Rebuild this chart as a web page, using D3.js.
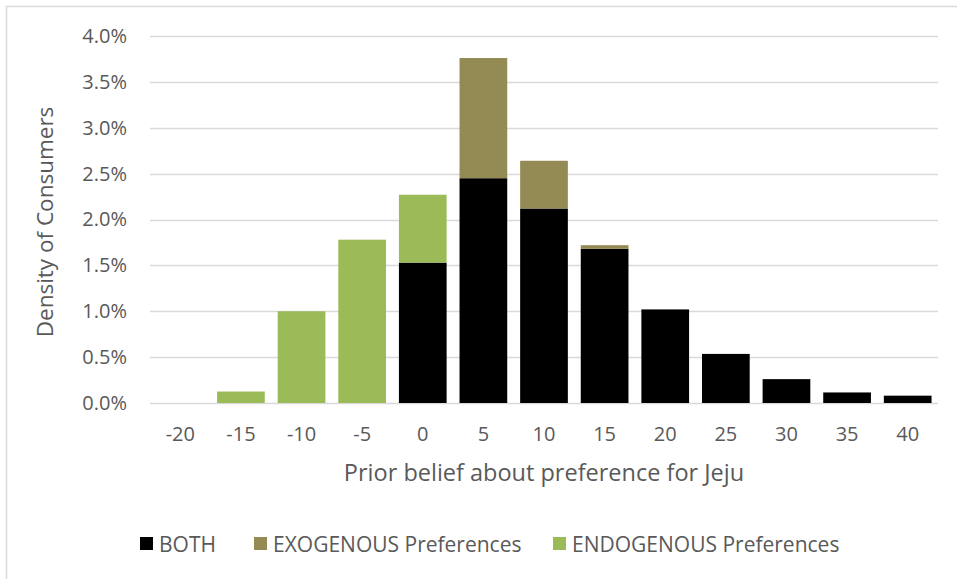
<!DOCTYPE html>
<html>
<head>
<meta charset="utf-8">
<script src="https://cdn.jsdelivr.net/npm/d3@7"></script>
<style>
  html, body { margin: 0; padding: 0; background: #fff; }
  svg { display: block; }
  text { font-family: "Open Sans", Lato, sans-serif; fill: #595959; }
</style>
</head>
<body>
<svg id="chart" width="957" height="579"></svg>
<script>
// Prior belief bins (x categories)
const categories = ["-20", "-15", "-10", "-5", "0", "5", "10", "15", "20", "25", "30", "35", "40"];
// Density of consumers, in percent, per series (stacked)
const both       = [0, 0, 0, 0, 1.53, 2.45, 2.12, 1.68, 1.02, 0.535, 0.26, 0.115, 0.08];
const exogenous  = [0, 0, 0, 0, 0, 1.31, 0.52, 0.04, 0, 0, 0, 0, 0];
const endogenous = [0, 0.125, 1.00, 1.78, 0.74, 0, 0, 0, 0, 0, 0, 0, 0];
const seriesNames = ["BOTH", "EXOGENOUS Preferences", "ENDOGENOUS Preferences"];
const seriesColors = ["#000000", "#948A54", "#9BBB59"];
const yTicks = [0, 0.5, 1.0, 1.5, 2.0, 2.5, 3.0, 3.5, 4.0];

const FONT = "'Open Sans', Lato, sans-serif";
const svg = d3.select("#chart");

// outer chart frame
svg.append("rect")
  .attr("x", 6.5).attr("y", 6.5)
  .attr("width", 1000).attr("height", 1000)
  .attr("fill", "none").attr("stroke", "#d9d9d9").attr("stroke-width", 1.5);

const plot = { left: 150, right: 938, top: 36, bottom: 403 };

const x = d3.scaleBand()
  .domain(categories)
  .range([plot.left, plot.right])
  .paddingInner(0.213)
  .paddingOuter(0.1065);

const y = d3.scaleLinear()
  .domain([0, 4.0])
  .range([plot.bottom, plot.top]);

// horizontal gridlines
svg.append("g")
  .selectAll("line")
  .data(yTicks)
  .join("line")
  .attr("x1", plot.left).attr("x2", plot.right)
  .attr("y1", d => Math.round(y(d)) + 0.5).attr("y2", d => Math.round(y(d)) + 0.5)
  .attr("stroke", "#d9d9d9").attr("stroke-width", 1.3);

// y axis labels
const yAxis = d3.axisLeft(y).tickValues(yTicks)
  .tickFormat(d => d.toFixed(1) + "%").tickSize(0).tickPadding(23);
const gy = svg.append("g").attr("transform", `translate(${plot.left},0)`).call(yAxis);
gy.select(".domain").remove();
gy.selectAll("text").attr("font-size", 20).style("font-family", FONT).attr("fill", "#595959");

// stacked bars
const rows = categories.map((c, i) => ({ cat: c, s0: both[i], s1: exogenous[i], s2: endogenous[i] }));
const stack = d3.stack().keys(["s0", "s1", "s2"]);
const layers = stack(rows);

svg.append("g")
  .selectAll("g")
  .data(layers)
  .join("g")
  .attr("fill", (d, i) => seriesColors[i])
  .selectAll("rect")
  .data(d => d.filter(p => p[1] - p[0] > 0))
  .join("rect")
  .attr("x", d => x(d.data.cat))
  .attr("width", x.bandwidth())
  .attr("y", d => y(d[1]))
  .attr("height", d => y(d[0]) - y(d[1]));

// x axis labels
const xAxis = d3.axisBottom(x).tickSize(0).tickPadding(24);
const gx = svg.append("g").attr("transform", `translate(0,${plot.bottom})`).call(xAxis);
gx.select(".domain").remove();
gx.selectAll("text").attr("font-size", 20).style("font-family", FONT).attr("fill", "#595959");

// axis titles
svg.append("text")
  .attr("x", 544).attr("y", 481)
  .attr("text-anchor", "middle").attr("font-size", 23.5)
  .text("Prior belief about preference for Jeju");

svg.append("text")
  .attr("transform", "translate(53,222) rotate(-90)")
  .attr("text-anchor", "middle").attr("font-size", 22.5)
  .text("Density of Consumers");

// legend
const legendPos = [140, 254, 553];
const lg = svg.append("g");
seriesNames.forEach((name, i) => {
  lg.append("rect")
    .attr("x", legendPos[i]).attr("y", 537)
    .attr("width", 13).attr("height", 13)
    .attr("fill", seriesColors[i]);
  lg.append("text")
    .attr("x", legendPos[i] + 19).attr("y", 551.5)
    .attr("font-size", 21)
    .text(name);
});
</script>
</body>
</html>
